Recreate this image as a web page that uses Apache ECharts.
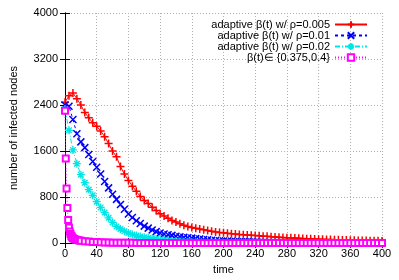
<!DOCTYPE html>
<html>
<head>
<meta charset="utf-8">
<script src="https://cdn.jsdelivr.net/npm/echarts@6/dist/echarts.min.js"></script>
<style>html,body{margin:0;padding:0;background:#fff}#c{width:399px;height:280px}</style>
</head>
<body>
<div id="c"></div>
<script>
const xTicks = [0,40,80,120,160,200,240,280,320,360,400];
const yTicks = [0,800,1600,2400,3200,4000];
const seriesNames = ['adaptive β(t) w/ ρ=0.005','adaptive β(t) w/ ρ=0.01','adaptive β(t) w/ ρ=0.02','β(t)∈ {0.375,0.4}'];

const times = [0,5,10,15,20,25,30,35,40,45,50,55,60,65,70,75,80,85,90,95,
  100,105,110,115,120,125,130,135,140,145,150,155,160,165,170,175,180,185,190,195,
  200,205,210,215,220,225,230,235,240,245,250,255,260,265,270,275,280,285,290,295,
  300,305,310,315,320,325,330,335,340,345,350,355,360,365,370,375,380,385,390,395,400];

const red = [2450,2560,2610,2510,2400,2270,2180,2090,2030,1950,
  1850,1730,1600,1500,1330,1200,1090,990,900,810,
  740,690,625,565,510,470,430,395,365,335,
  310,290,272,258,243,230,218,206,195,186,
  178,170,163,157,151,146,141,136,131,126,
  121,117,112,107,103,99,95,91,87,84,
  80,77,74,71,68,66,63,61,59,57,
  55,53,51,49,47,46,44,43,41,40,38];

const blue = [2400,2380,2150,1900,1760,1660,1540,1420,1320,1200,
  1070,960,850,760,670,590,505,445,390,340,
  295,260,228,200,175,158,145,134,120,108,
  100,93,86,78,70,63,57,51,46,42,
  38,34,31,28,25,23,21,19,17,15,
  14,12,11,10,9,8,7,6,6,5,
  5,4,4,3,3,3,2,2,2,2,
  2,1,1,1,1,1,1,1,0,0,0];

const cyan = [2330,1960,1620,1380,1190,1050,930,830,720,620,
  530,440,360,290,245,205,175,150,130,115,
  100,90,80,70,60,52,44,38,32,27,
  23,19,16,13,11,9,8,7,6,5,
  4,3,3,2,2,2,1,1,1,1,
  0,0,0,0,0,0,0,0,0,0,
  0,0,0,0,0,0,0,0,0,0,
  0,0,0,0,0,0,0,0,0,0,0];

const magentaT = [0,1,2,3,4,5,6,7,8,9,10,12,14,16,18,20,
  25,30,35,40,45,50,55,60,65,70,75,80,85,90,95,100,105,110,115,120,
  125,130,135,140,145,150,155,160,165,170,175,180,185,190,195,
  200,205,210,215,220,225,230,235,240,245,250,255,260,265,270,275,280,285,290,295,
  300,305,310,315,320,325,330,335,340,345,350,355,360,365,370,375,380,385,390,395,400];
const magenta = [2300,1470,950,610,400,270,200,160,125,100,85,70,60,52,45,40,
  32,26,21,17,14,12,10,8,7,6,5,4,4,3,3,2,2,2,1,1,
  1,1,1,1,1,1,0,0,0,0,0,0,0,0,0,
  0,0,0,0,0,0,0,0,0,0,0,0,0,0,0,0,0,0,0,0,
  0,0,0,0,0,0,0,0,0,0,0,0,0,0,0,0,0,0,0,0,0];

function pairs(xs, ys){ return xs.map((x,i)=>[x, ys[i]]); }

const FONT = 'Liberation Sans';
const chart = echarts.init(document.getElementById('c'), null, {renderer:'canvas'});

const baseX = {type:'value', min:0, max:400, interval:40};
const baseY = {type:'value', min:0, max:4000, interval:800};
const tick = {show:true, inside:true, length:5, lineStyle:{color:'#000', width:1}};
const line = {show:true, lineStyle:{color:'#000', width:1}};

function mkSeries(name, data, color, symbol, size, dash, bw){
  return {
    name, type:'line', data, symbol, symbolSize:size, showAllSymbol:true,
    lineStyle:{color, width:1, type:dash},
    itemStyle:{color, borderColor:color, borderWidth:bw},
    emphasis:{disabled:true}
  };
}

chart.setOption({
  animation:false,
  backgroundColor:'#fff',
  textStyle:{fontFamily:FONT},
  grid:{left:63, right:17, top:13, bottom:34, containLabel:false},
  legend:{
    right:31, top:19, orient:'vertical', align:'right', padding:0, itemGap:0,
    itemWidth:32, itemHeight:8,
    textStyle:{fontFamily:FONT, fontSize:11, color:'#000'},
    data:seriesNames
  },
  xAxis:[
    Object.assign({}, baseX, {position:'bottom', name:'time', nameLocation:'middle', nameGap:20,
      nameTextStyle:{fontFamily:FONT, fontSize:11, color:'#000'},
      axisLine:line, axisTick:tick,
      axisLabel:{color:'#000', fontFamily:FONT, fontSize:11, margin:5},
      splitLine:{show:true, lineStyle:{color:'#b0b0b0', width:1, type:[1,2]}}}),
    Object.assign({}, baseX, {position:'top', axisLine:line, axisTick:tick, axisLabel:{show:false}, splitLine:{show:false}})
  ],
  yAxis:[
    Object.assign({}, baseY, {position:'left', name:'number of infected nodes', nameLocation:'middle', nameGap:46,
      nameTextStyle:{fontFamily:FONT, fontSize:11, color:'#000'},
      axisLine:line, axisTick:tick,
      axisLabel:{color:'#000', fontFamily:FONT, fontSize:11, margin:7, formatter:(v)=>String(v)},
      splitLine:{show:true, lineStyle:{color:'#b0b0b0', width:1, type:[1,2]}}}),
    Object.assign({}, baseY, {position:'right', axisLine:line, axisTick:tick, axisLabel:{show:false}, splitLine:{show:false}})
  ],
  series:[
    mkSeries(seriesNames[0], pairs(times, red), '#ff0000', 'path://M5,0V10M0,5H10', 8, 'solid', 1.5),
    mkSeries(seriesNames[1], pairs(times, blue), '#0000ff', 'path://M0,0L10,10M10,0L0,10', 7, [3,3], 1.5),
    mkSeries(seriesNames[2], pairs(times, cyan), '#00e5e5', 'path://M5,0V10M0,5H10M1.5,1.5L8.5,8.5M8.5,1.5L1.5,8.5', 8, [5,2,1,2], 1.3),
    mkSeries(seriesNames[3], pairs(magentaT, magenta), '#ff00ff', 'emptyRect', 6, [1,2], 1)
  ]
});
</script>
</body>
</html>
